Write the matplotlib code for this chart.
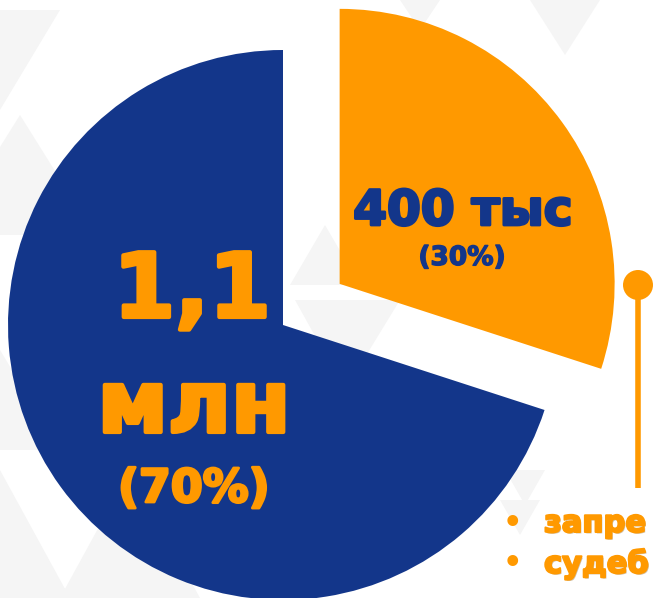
import matplotlib
matplotlib.use("Agg")
import matplotlib.pyplot as plt
from matplotlib.patches import Polygon, Circle
import matplotlib.patheffects as pe

# ---- data ----
categories = ["400 тыс", "1,1 млн"]
shares = [30, 70]
share_labels = ["(30%)", "(70%)"]
bullet_items = ["запре", "судеб"]

BLUE = "#13368A"
ORANGE = "#FF9900"

W, H = 654, 598
fig = plt.figure(figsize=(W / 100, H / 100), dpi=100)
ax = fig.add_axes([0, 0, 1, 1])

# faint background triangles (decoration)
tri_col = "#f5f5f5"
tris = [
    [(0, 598 - 110), (60, 598 - 10), (-60, 598 - 10)],
    [(20, 598 - 115), (95, 598 - 235), (-55, 598 - 235)],
    [(0, 598 - 350), (60, 598 - 450), (-60, 598 - 450)],
    [(0, 598 - 470), (70, 598 - 598), (-70, 598 - 598)],
    [(60, 598 - 598), (130, 598 - 470), (200, 598 - 598)],
    [(290, 598 - 285), (325, 598 - 225), (360, 598 - 285)],
    [(295, 598 - 300), (400, 598 - 300), (345, 598 - 390)],
    [(505, 598 - 470), (545, 598 - 470), (525, 598 - 505)],
    [(500, 598 - 500), (540, 598 - 500), (520, 598 - 535)],
    [(400, 598 - 0), (440, 598 - 0), (420, 598 - 30)],
    [(530, 598 - 0), (600, 598 - 0), (565, 598 - 55)],
]
for t in tris:
    ax.add_patch(Polygon(t, closed=True, facecolor=tri_col, edgecolor="none", zorder=0))

# ---- pie ----
wedges, _ = ax.pie(
    shares,
    colors=[ORANGE, BLUE],
    startangle=90,
    counterclock=False,
    radius=275,
    center=(283, 273),
    explode=[70, 0],
    frame=True,
    wedgeprops=dict(linewidth=0),
)
for w in wedges:
    w.set_zorder(2)
ax.set_xlim(0, W)
ax.set_ylim(0, H)
ax.set_aspect("auto")
ax.axis("off")

font = "DejaVu Sans"

def heavy(color, lw):
    return [pe.withStroke(linewidth=lw, foreground=color)]

big_num, big_unit = categories[1].split(" ")
ax.text(192, 281, big_num, color=ORANGE, fontsize=64, fontweight="bold",
        family=font, ha="center", va="baseline", zorder=5, path_effects=heavy(ORANGE, 3))
ax.text(194, 166, big_unit, color=ORANGE, fontsize=62, fontweight="bold",
        family=font, ha="center", va="baseline", zorder=5, path_effects=heavy(ORANGE, 3))
ax.text(194, 96, share_labels[1], color=ORANGE, fontsize=33, fontweight="bold",
        family=font, ha="center", va="baseline", zorder=5, path_effects=heavy(ORANGE, 2))

ax.text(463, 373, categories[0], color=BLUE, fontsize=35, fontweight="bold",
        family=font, ha="center", va="baseline", zorder=5, path_effects=heavy(BLUE, 2))
ax.text(462, 333, share_labels[0], color=BLUE, fontsize=19, fontweight="bold",
        family=font, ha="center", va="baseline", zorder=5, path_effects=heavy(BLUE, 1))

# connector line with dot
ax.plot([638, 638], [598 - 285, 598 - 488], color=ORANGE, lw=4, solid_capstyle="butt", zorder=3)
ax.add_patch(Circle((638, 598 - 285), 15, facecolor=ORANGE, edgecolor="none", zorder=3))

shadow = [pe.SimplePatchShadow(offset=(1, -1), shadow_rgbFace="#7a4a00", alpha=0.35),
          pe.withStroke(linewidth=1.5, foreground=ORANGE)]
for i, item in enumerate(bullet_items):
    yb = 66 - i * 41
    ax.text(512, yb + 9, "•", color=ORANGE, fontsize=22, fontweight="bold",
            family=font, ha="center", va="center", zorder=5)
    ax.text(544, yb, item, color=ORANGE, fontsize=22, fontweight="bold",
            family=font, ha="left", va="baseline", zorder=5, path_effects=shadow)

fig.savefig("out.png", dpi=100)
